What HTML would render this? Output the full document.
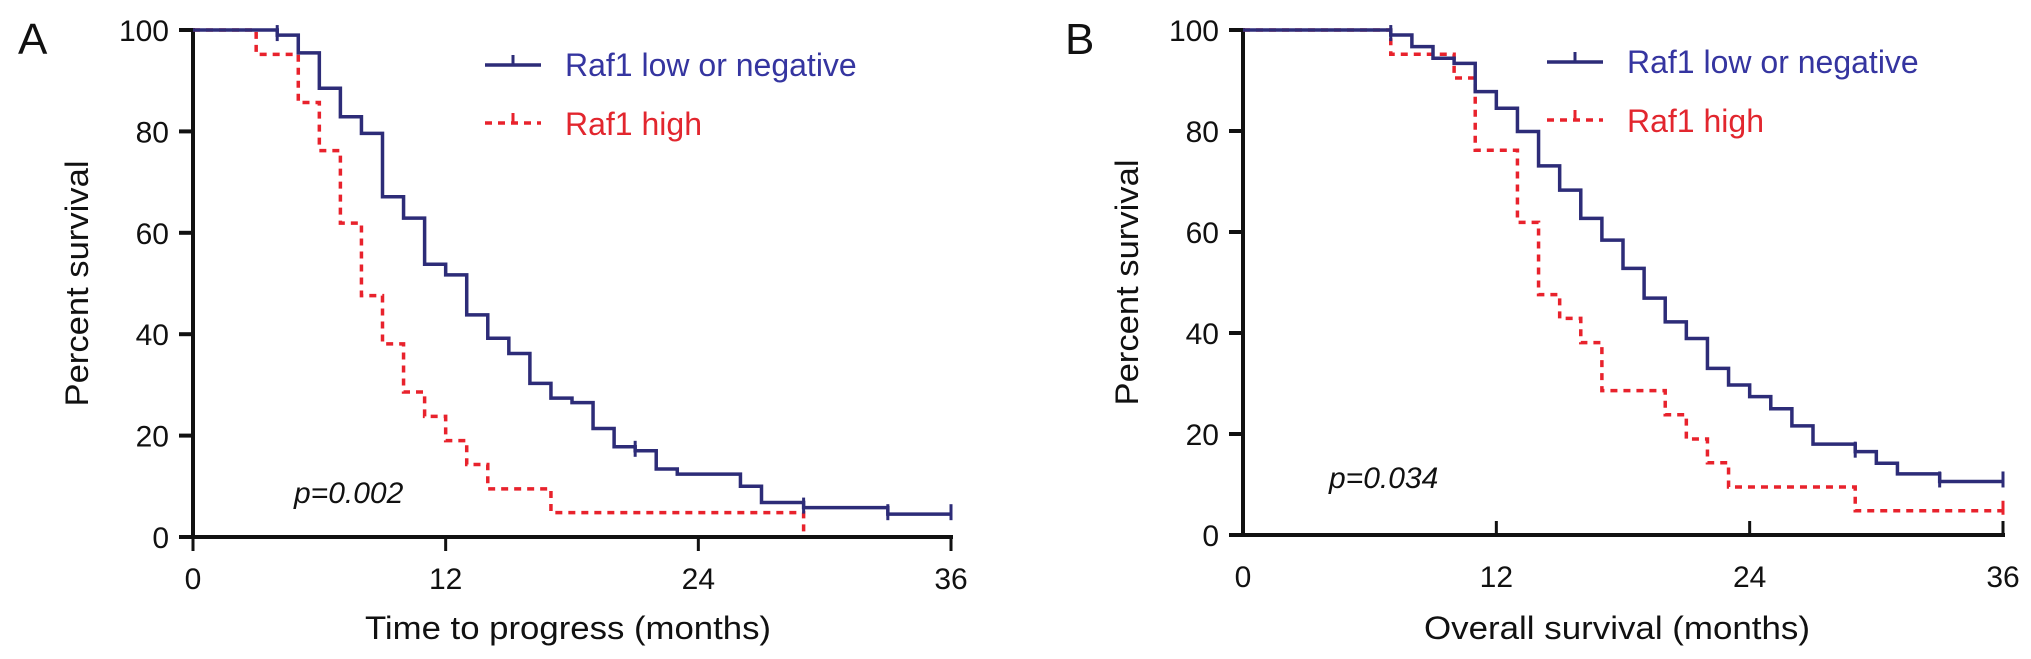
<!DOCTYPE html>
<html><head><meta charset="utf-8"><style>
html,body{margin:0;padding:0;background:#fff;}
svg{display:block;font-family:"Liberation Sans",Arial,sans-serif;}
</style></head><body>
<svg id="fig" width="2031" height="659" viewBox="0 0 2031 659" xmlns="http://www.w3.org/2000/svg"></svg>
<script>
// ---- Data (months, percent survival) ----
const ticksX = [0, 12, 24, 36];
const ticksY = [0, 20, 40, 60, 80, 100];
const tickLabelsX = ["0", "12", "24", "36"];
const tickLabelsY = ["0", "20", "40", "60", "80", "100"];

const aLowTimes = [0, 4, 5, 6, 7, 8, 9, 10, 11, 12, 13, 14, 15, 16, 17, 18, 19, 20, 21, 22, 23, 26, 27, 29, 33, 36];
const aLowVals  = [100, 99, 95.5, 88.5, 82.9, 79.6, 67.1, 62.9, 53.8, 51.7, 43.8, 39.2, 36.2, 30.3, 27.4, 26.5, 21.4, 17.8, 17.0, 13.4, 12.4, 10.0, 6.8, 5.8, 4.5, 4.5];
const aHighTimes = [0, 3, 5, 6, 7, 8, 9, 10, 11, 12, 13, 14, 17, 29];
const aHighVals  = [100, 95.2, 85.7, 76.2, 61.9, 47.6, 38.1, 28.6, 23.8, 19.0, 14.3, 9.5, 4.8, 0];
const aLowCensor = [4, 21, 29, 33, 36];

const bLowTimes = [0, 7, 8, 9, 10, 11, 12, 13, 14, 15, 16, 17, 18, 19, 20, 21, 22, 23, 24, 25, 26, 27, 29, 30, 31, 33, 36];
const bLowVals  = [100, 99, 96.7, 94.4, 93.4, 87.8, 84.5, 79.9, 73.1, 68.3, 62.7, 58.4, 52.8, 46.9, 42.2, 38.9, 33.0, 29.7, 27.4, 25.0, 21.6, 18.0, 16.5, 14.2, 12.1, 10.6, 10.6];
const bHighTimes = [0, 7, 10, 11, 13, 14, 15, 16, 17, 20, 21, 22, 23, 29, 36];
const bHighVals  = [100, 95.2, 90.5, 76.2, 61.9, 47.6, 42.9, 38.1, 28.6, 23.8, 19.0, 14.3, 9.5, 4.8, 4.8];
const bLowCensor = [7, 29, 33, 36];
const bHighCensor = [36];

const NS = "http://www.w3.org/2000/svg";
const svg = document.getElementById("fig");
function mk(tag, attrs, parent) {
  const e = document.createElementNS(NS, tag);
  for (const k in attrs) e.setAttribute(k, attrs[k]);
  (parent || svg).appendChild(e);
  return e;
}
const BLUE = "#2d2c78", RED = "#e8222c";

function panel(cfg) {
  const g = mk("g", {});
  
  
  const sx = v => cfg.x0 + (v / 36) * (cfg.x1 - cfg.x0);
  const sy = v => cfg.y0 - (v / 100) * (cfg.y0 - cfg.y100);

  // axes
  const ya = mk("line", {x1: cfg.x0, y1: cfg.y100 - 2, x2: cfg.x0, y2: cfg.y0 + 2, stroke: "#111", "stroke-width": 4}, g);
  
  
  const xa = mk("line", {x1: cfg.x0 - 14, y1: cfg.y0, x2: cfg.x1 + 2, y2: cfg.y0, stroke: "#111", "stroke-width": 4}, g);
  
  

  ticksY.forEach((v, i) => {
    const t = mk("line", {x1: cfg.x0 - 14, y1: sy(v), x2: cfg.x0, y2: sy(v), stroke: "#111", "stroke-width": 4}, g);
    
    
    const l = mk("text", {x: cfg.x0 - 24, y: sy(v) + 11, "text-anchor": "end", "font-size": 30, fill: "#111"}, g);
    l.textContent = tickLabelsY[i];
    
    
  });
  ticksX.forEach((v, i) => {
    const t = cfg.ticksUp
      ? mk("line", {x1: sx(v), y1: cfg.y0 - 14, x2: sx(v), y2: cfg.y0, stroke: "#111", "stroke-width": 3}, g)
      : mk("line", {x1: sx(v), y1: cfg.y0, x2: sx(v), y2: cfg.y0 + 14, stroke: "#111", "stroke-width": 3}, g);
    
    
    const l = mk("text", {x: sx(v), y: cfg.y0 + 52, "text-anchor": "middle", "font-size": 30, fill: "#111"}, g);
    l.textContent = tickLabelsX[i];
    
    
  });

  // step curves
  function steps(times, vals, endT) {
    let d = "M" + sx(times[0]) + "," + sy(vals[0]);
    for (let i = 1; i < times.length; i++) {
      d += " H" + sx(times[i]) + " V" + sy(vals[i]);
    }
    if (endT !== null) d += " H" + sx(endT);
    return d;
  }
  const hi = mk("path", {d: steps(cfg.hiT, cfg.hiV, cfg.hiEnd), fill: "none", stroke: RED, "stroke-width": 3.5, "stroke-dasharray": "7,6"}, g);
  
  
  const lo = mk("path", {d: steps(cfg.loT, cfg.loV, null), fill: "none", stroke: BLUE, "stroke-width": 3.5}, g);
  
  

  function valAt(times, vals, t) {
    let v = vals[0];
    for (let i = 0; i < times.length; i++) if (times[i] <= t) v = vals[i];
    return v;
  }
  cfg.loC.forEach(t => {
    const y = sy(valAt(cfg.loT, cfg.loV, t));
    const c = mk("line", {x1: sx(t), y1: y - 10, x2: sx(t), y2: y + 6, stroke: BLUE, "stroke-width": 3}, g);
    
    
  });
  cfg.hiC.forEach(t => {
    const y = sy(valAt(cfg.hiT, cfg.hiV, t));
    const c = mk("line", {x1: sx(t), y1: y - 10, x2: sx(t), y2: y + 4, stroke: RED, "stroke-width": 3}, g);
    
    
  });

  // labels
  const yl = mk("text", {x: 0, y: 0, "text-anchor": "middle", "font-size": 32, fill: "#111",
    transform: "translate(" + (cfg.x0 - 105) + "," + (sy(50)) + ") rotate(-90)",
    textLength: 246, lengthAdjust: "spacingAndGlyphs"}, g);
  yl.textContent = "Percent survival";
  
  
  const xl = mk("text", {x: cfg.titleX, y: 639, "text-anchor": "middle", "font-size": 32, fill: "#111",
    textLength: cfg.titleW, lengthAdjust: "spacingAndGlyphs"}, g);
  xl.textContent = cfg.title;
  
  
  const pl = mk("text", {x: cfg.pX, y: cfg.pY, "font-size": 30, "font-style": "italic", fill: "#111"}, g);
  pl.textContent = cfg.p;
  
  
  const letter = mk("text", {x: cfg.letterX, y: 54, "font-size": 44, fill: "#111"}, g);
  letter.textContent = cfg.letter;
  
  

  // legend
  const lg = mk("g", {}, g);
  
  
  const lx = cfg.legX, ly = cfg.legY;
  const l1 = mk("line", {x1: lx, y1: ly, x2: lx + 56, y2: ly, stroke: BLUE, "stroke-width": 3.5}, lg);
  
  
  mk("line", {x1: lx + 28, y1: ly - 10, x2: lx + 28, y2: ly, stroke: BLUE, "stroke-width": 3}, lg);
  const t1 = mk("text", {x: lx + 80, y: ly + 11, "font-size": 32, fill: "#3535a0"}, lg);
  t1.textContent = "Raf1 low or negative";
  
  
  const l2 = mk("line", {x1: lx, y1: ly + 58, x2: lx + 56, y2: ly + 58, stroke: RED, "stroke-width": 3.5, "stroke-dasharray": "7,6"}, lg);
  
  
  mk("line", {x1: lx + 28, y1: ly + 48, x2: lx + 28, y2: ly + 58, stroke: RED, "stroke-width": 3}, lg);
  const t2 = mk("text", {x: lx + 80, y: ly + 70, "font-size": 32, fill: "#e2262e"}, lg);
  t2.textContent = "Raf1 high";
  
  
}

panel({name: "panel-a-time-to-progress", x0: 193, x1: 951, y0: 537, y100: 30,
  loT: aLowTimes, loV: aLowVals, hiT: aHighTimes, hiV: aHighVals, hiEnd: null,
  loC: aLowCensor, hiC: [],
  title: "Time to progress (months)", titleX: 568, titleW: 406,
  p: "p=0.002", pX: 294, pY: 503, letter: "A", letterX: 18, legX: 485, legY: 65});
panel({name: "panel-b-overall-survival", x0: 1243, x1: 2003, y0: 535, y100: 30, ticksUp: true,
  loT: bLowTimes, loV: bLowVals, hiT: bHighTimes, hiV: bHighVals, hiEnd: null,
  loC: bLowCensor, hiC: bHighCensor,
  title: "Overall survival (months)", titleX: 1617, titleW: 386,
  p: "p=0.034", pX: 1329, pY: 488, letter: "B", letterX: 1065, legX: 1547, legY: 62});
</script>
</body></html>
